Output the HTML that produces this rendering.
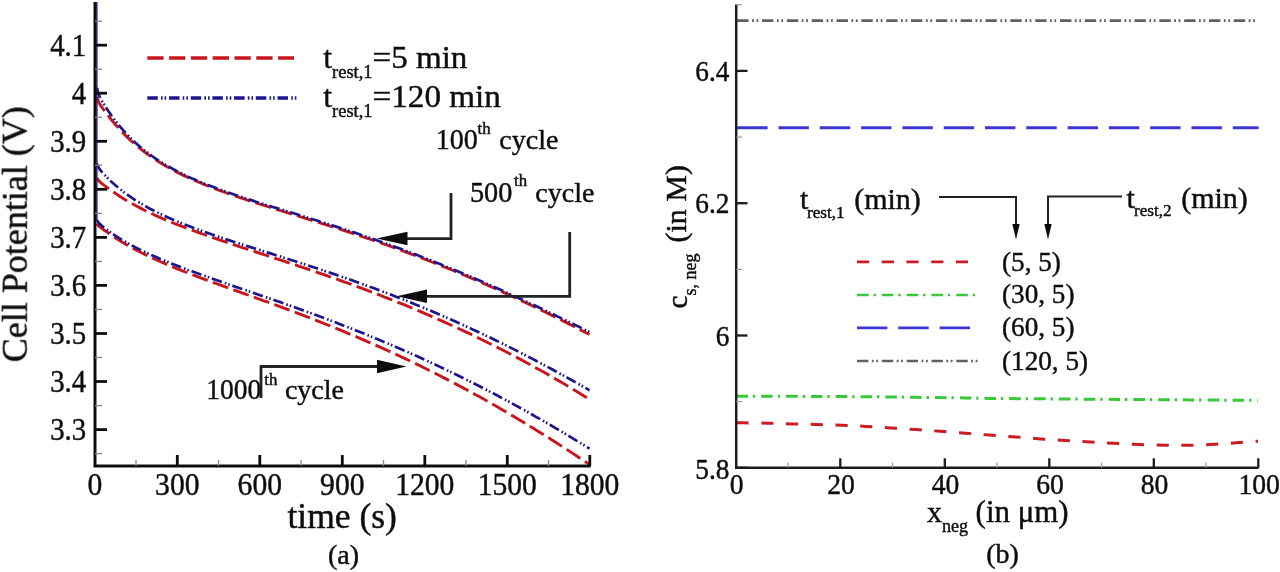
<!DOCTYPE html>
<html><head><meta charset="utf-8"><style>
html,body{margin:0;padding:0;background:#fff;overflow:hidden;width:1280px;height:572px;}
svg{display:block;}
text{font-family:"Liberation Serif",serif;fill:#111;stroke:#111;stroke-width:0.45px;}
</style></head><body>
<svg width="1280" height="572" viewBox="0 0 1280 572">
<defs><filter id="bl" x="0" y="0" width="1280" height="572" filterUnits="userSpaceOnUse"><feGaussianBlur stdDeviation="0.7"/></filter></defs>
<g filter="url(#bl)">
<rect x="0" y="0" width="1280" height="572" fill="#fff"/>
<path d="M97.0,96.8 L98.0,100.4 L99.0,102.6 L100.0,104.4 L101.0,105.9 L102.0,107.4 L103.0,108.8 L104.0,110.1 L105.0,111.5 L106.0,112.8 L107.0,114.1 L108.0,115.4 L109.0,116.7 L110.0,118.0 L112.0,120.5 L116.0,125.2 L120.0,129.7 L124.0,133.9 L128.0,137.9 L132.0,141.6 L136.0,145.1 L140.0,148.4 L144.0,151.6 L148.0,154.5 L152.0,157.3 L156.0,160.0 L160.0,162.5 L164.0,164.9 L168.0,167.2 L172.0,169.4 L176.0,171.6 L180.0,173.6 L184.0,175.6 L188.0,177.4 L192.0,179.3 L196.0,181.0 L200.0,182.7 L204.0,184.4 L208.0,186.0 L212.0,187.5 L216.0,189.1 L220.0,190.6 L224.0,192.0 L228.0,193.5 L232.0,194.9 L236.0,196.2 L240.0,197.6 L244.0,198.9 L248.0,200.3 L252.0,201.6 L256.0,202.8 L260.0,204.1 L264.0,205.4 L268.0,206.7 L272.0,207.9 L276.0,209.2 L280.0,210.4 L284.0,211.7 L288.0,212.9 L292.0,214.1 L296.0,215.4 L300.0,216.6 L304.0,217.8 L308.0,219.1 L312.0,220.3 L316.0,221.6 L320.0,222.8 L324.0,224.1 L328.0,225.4 L332.0,226.7 L336.0,227.9 L340.0,229.2 L344.0,230.5 L348.0,231.8 L352.0,233.2 L356.0,234.5 L360.0,235.8 L364.0,237.2 L368.0,238.5 L372.0,239.9 L376.0,241.3 L380.0,242.7 L384.0,244.1 L388.0,245.5 L392.0,246.9 L396.0,248.4 L400.0,249.8 L404.0,251.3 L408.0,252.8 L412.0,254.3 L416.0,255.8 L420.0,257.3 L424.0,258.9 L428.0,260.4 L432.0,262.0 L436.0,263.6 L440.0,265.1 L444.0,266.8 L448.0,268.4 L452.0,270.0 L456.0,271.7 L460.0,273.3 L464.0,275.0 L468.0,276.7 L472.0,278.4 L476.0,280.1 L480.0,281.9 L484.0,283.6 L488.0,285.4 L492.0,287.2 L496.0,288.9 L500.0,290.7 L504.0,292.6 L508.0,294.4 L512.0,296.2 L516.0,298.1 L520.0,300.0 L524.0,301.9 L528.0,303.8 L532.0,305.7 L536.0,307.6 L540.0,309.5 L544.0,311.5 L548.0,313.4 L552.0,315.4 L556.0,317.4 L560.0,319.4 L564.0,321.4 L568.0,323.4 L572.0,325.5 L576.0,327.5 L580.0,329.6 L584.0,331.6 L588.0,333.7 L589.5,334.5" fill="none" stroke="#c8161e" stroke-width="2.9" stroke-dasharray="16.3 5.5"/>
<path d="M97.0,178.0 L98.0,179.7 L99.0,180.9 L100.0,181.9 L101.0,182.8 L102.0,183.6 L103.0,184.4 L104.0,185.2 L105.0,185.9 L106.0,186.7 L107.0,187.5 L108.0,188.2 L109.0,188.9 L110.0,189.7 L112.0,191.1 L116.0,193.8 L120.0,196.5 L124.0,199.0 L128.0,201.4 L132.0,203.6 L136.0,205.8 L140.0,207.9 L144.0,210.0 L148.0,211.9 L152.0,213.8 L156.0,215.7 L160.0,217.4 L164.0,219.2 L168.0,220.8 L172.0,222.5 L176.0,224.1 L180.0,225.7 L184.0,227.2 L188.0,228.7 L192.0,230.2 L196.0,231.7 L200.0,233.1 L204.0,234.5 L208.0,235.9 L212.0,237.3 L216.0,238.7 L220.0,240.1 L224.0,241.4 L228.0,242.8 L232.0,244.1 L236.0,245.4 L240.0,246.8 L244.0,248.1 L248.0,249.4 L252.0,250.7 L256.0,252.0 L260.0,253.3 L264.0,254.6 L268.0,255.9 L272.0,257.3 L276.0,258.6 L280.0,259.9 L284.0,261.2 L288.0,262.5 L292.0,263.9 L296.0,265.2 L300.0,266.5 L304.0,267.9 L308.0,269.2 L312.0,270.6 L316.0,271.9 L320.0,273.3 L324.0,274.7 L328.0,276.1 L332.0,277.5 L336.0,278.9 L340.0,280.3 L344.0,281.8 L348.0,283.2 L352.0,284.7 L356.0,286.1 L360.0,287.6 L364.0,289.1 L368.0,290.6 L372.0,292.1 L376.0,293.7 L380.0,295.2 L384.0,296.8 L388.0,298.3 L392.0,299.9 L396.0,301.5 L400.0,303.1 L404.0,304.7 L408.0,306.4 L412.0,308.0 L416.0,309.7 L420.0,311.4 L424.0,313.1 L428.0,314.8 L432.0,316.6 L436.0,318.3 L440.0,320.1 L444.0,321.9 L448.0,323.7 L452.0,325.5 L456.0,327.3 L460.0,329.2 L464.0,331.1 L468.0,332.9 L472.0,334.8 L476.0,336.8 L480.0,338.7 L484.0,340.7 L488.0,342.7 L492.0,344.6 L496.0,346.7 L500.0,348.7 L504.0,350.7 L508.0,352.8 L512.0,354.9 L516.0,357.0 L520.0,359.1 L524.0,361.3 L528.0,363.5 L532.0,365.6 L536.0,367.9 L540.0,370.1 L544.0,372.3 L548.0,374.6 L552.0,376.9 L556.0,379.2 L560.0,381.5 L564.0,383.8 L568.0,386.2 L572.0,388.6 L576.0,391.0 L580.0,393.4 L584.0,395.9 L588.0,398.4 L589.5,399.3" fill="none" stroke="#c8161e" stroke-width="2.9" stroke-dasharray="16.3 5.5"/>
<path d="M97.0,223.6 L98.0,225.2 L99.0,226.3 L100.0,227.1 L101.0,227.9 L102.0,228.6 L103.0,229.3 L104.0,230.0 L105.0,230.7 L106.0,231.4 L107.0,232.1 L108.0,232.8 L109.0,233.5 L110.0,234.2 L112.0,235.6 L116.0,238.2 L120.0,240.7 L124.0,243.2 L128.0,245.5 L132.0,247.8 L136.0,249.9 L140.0,252.0 L144.0,254.0 L148.0,256.0 L152.0,257.9 L156.0,259.7 L160.0,261.5 L164.0,263.2 L168.0,265.0 L172.0,266.6 L176.0,268.3 L180.0,269.9 L184.0,271.5 L188.0,273.0 L192.0,274.6 L196.0,276.1 L200.0,277.6 L204.0,279.1 L208.0,280.5 L212.0,282.0 L216.0,283.5 L220.0,284.9 L224.0,286.4 L228.0,287.8 L232.0,289.3 L236.0,290.7 L240.0,292.1 L244.0,293.6 L248.0,295.0 L252.0,296.4 L256.0,297.9 L260.0,299.3 L264.0,300.8 L268.0,302.2 L272.0,303.7 L276.0,305.2 L280.0,306.6 L284.0,308.1 L288.0,309.6 L292.0,311.1 L296.0,312.6 L300.0,314.1 L304.0,315.7 L308.0,317.2 L312.0,318.7 L316.0,320.3 L320.0,321.9 L324.0,323.5 L328.0,325.1 L332.0,326.7 L336.0,328.3 L340.0,329.9 L344.0,331.6 L348.0,333.3 L352.0,334.9 L356.0,336.6 L360.0,338.3 L364.0,340.1 L368.0,341.8 L372.0,343.6 L376.0,345.3 L380.0,347.1 L384.0,348.9 L388.0,350.7 L392.0,352.6 L396.0,354.4 L400.0,356.3 L404.0,358.1 L408.0,360.0 L412.0,362.0 L416.0,363.9 L420.0,365.8 L424.0,367.8 L428.0,369.8 L432.0,371.8 L436.0,373.8 L440.0,375.8 L444.0,377.9 L448.0,379.9 L452.0,382.0 L456.0,384.1 L460.0,386.3 L464.0,388.4 L468.0,390.5 L472.0,392.7 L476.0,394.9 L480.0,397.1 L484.0,399.3 L488.0,401.6 L492.0,403.9 L496.0,406.1 L500.0,408.4 L504.0,410.7 L508.0,413.1 L512.0,415.4 L516.0,417.8 L520.0,420.2 L524.0,422.6 L528.0,425.0 L532.0,427.5 L536.0,429.9 L540.0,432.4 L544.0,434.9 L548.0,437.4 L552.0,439.9 L556.0,442.5 L560.0,445.1 L564.0,447.6 L568.0,450.2 L572.0,452.9 L576.0,455.5 L580.0,458.2 L584.0,460.8 L588.0,463.5 L589.5,464.5" fill="none" stroke="#c8161e" stroke-width="2.9" stroke-dasharray="16.3 5.5"/>
<path d="M97.0,87.9 L98.0,92.2 L99.0,95.0 L100.0,97.3 L101.0,99.2 L102.0,101.0 L103.0,102.7 L104.0,104.3 L105.0,105.9 L106.0,107.5 L107.0,109.0 L108.0,110.5 L109.0,112.0 L110.0,113.4 L112.0,116.3 L116.0,121.6 L120.0,126.6 L124.0,131.2 L128.0,135.5 L132.0,139.5 L136.0,143.2 L140.0,146.7 L144.0,150.0 L148.0,153.1 L152.0,156.0 L156.0,158.8 L160.0,161.4 L164.0,163.9 L168.0,166.2 L172.0,168.5 L176.0,170.6 L180.0,172.7 L184.0,174.7 L188.0,176.6 L192.0,178.4 L196.0,180.1 L200.0,181.8 L204.0,183.5 L208.0,185.1 L212.0,186.6 L216.0,188.1 L220.0,189.6 L224.0,191.0 L228.0,192.4 L232.0,193.8 L236.0,195.2 L240.0,196.5 L244.0,197.8 L248.0,199.1 L252.0,200.4 L256.0,201.7 L260.0,202.9 L264.0,204.2 L268.0,205.4 L272.0,206.7 L276.0,207.9 L280.0,209.1 L284.0,210.4 L288.0,211.6 L292.0,212.8 L296.0,214.0 L300.0,215.3 L304.0,216.5 L308.0,217.7 L312.0,219.0 L316.0,220.2 L320.0,221.5 L324.0,222.7 L328.0,224.0 L332.0,225.3 L336.0,226.6 L340.0,227.9 L344.0,229.2 L348.0,230.5 L352.0,231.8 L356.0,233.1 L360.0,234.5 L364.0,235.9 L368.0,237.2 L372.0,238.6 L376.0,240.0 L380.0,241.4 L384.0,242.8 L388.0,244.3 L392.0,245.7 L396.0,247.2 L400.0,248.6 L404.0,250.1 L408.0,251.6 L412.0,253.1 L416.0,254.6 L420.0,256.2 L424.0,257.7 L428.0,259.3 L432.0,260.9 L436.0,262.4 L440.0,264.0 L444.0,265.7 L448.0,267.3 L452.0,268.9 L456.0,270.6 L460.0,272.3 L464.0,273.9 L468.0,275.6 L472.0,277.3 L476.0,279.0 L480.0,280.8 L484.0,282.5 L488.0,284.3 L492.0,286.0 L496.0,287.8 L500.0,289.6 L504.0,291.4 L508.0,293.2 L512.0,295.0 L516.0,296.9 L520.0,298.7 L524.0,300.5 L528.0,302.4 L532.0,304.3 L536.0,306.1 L540.0,308.0 L544.0,309.9 L548.0,311.8 L552.0,313.7 L556.0,315.7 L560.0,317.6 L564.0,319.5 L568.0,321.5 L572.0,323.4 L576.0,325.4 L580.0,327.3 L584.0,329.3 L588.0,331.3 L589.5,332.0" fill="none" stroke="#1c168e" stroke-width="2.7" stroke-dasharray="10.5 3.2 1.6 2 1.6 2.8"/>
<path d="M97.0,163.7 L98.0,166.4 L99.0,168.2 L100.0,169.6 L101.0,170.9 L102.0,172.1 L103.0,173.3 L104.0,174.4 L105.0,175.4 L106.0,176.5 L107.0,177.5 L108.0,178.5 L109.0,179.5 L110.0,180.4 L112.0,182.3 L116.0,185.8 L120.0,189.1 L124.0,192.2 L128.0,195.2 L132.0,197.9 L136.0,200.5 L140.0,203.0 L144.0,205.3 L148.0,207.6 L152.0,209.7 L156.0,211.7 L160.0,213.7 L164.0,215.6 L168.0,217.4 L172.0,219.2 L176.0,220.9 L180.0,222.6 L184.0,224.2 L188.0,225.7 L192.0,227.3 L196.0,228.8 L200.0,230.2 L204.0,231.7 L208.0,233.1 L212.0,234.5 L216.0,235.8 L220.0,237.2 L224.0,238.5 L228.0,239.9 L232.0,241.2 L236.0,242.5 L240.0,243.8 L244.0,245.0 L248.0,246.3 L252.0,247.6 L256.0,248.8 L260.0,250.1 L264.0,251.4 L268.0,252.6 L272.0,253.9 L276.0,255.2 L280.0,256.4 L284.0,257.7 L288.0,259.0 L292.0,260.3 L296.0,261.5 L300.0,262.8 L304.0,264.1 L308.0,265.4 L312.0,266.7 L316.0,268.0 L320.0,269.4 L324.0,270.7 L328.0,272.1 L332.0,273.4 L336.0,274.8 L340.0,276.2 L344.0,277.5 L348.0,278.9 L352.0,280.3 L356.0,281.8 L360.0,283.2 L364.0,284.6 L368.0,286.1 L372.0,287.6 L376.0,289.1 L380.0,290.6 L384.0,292.1 L388.0,293.6 L392.0,295.1 L396.0,296.7 L400.0,298.3 L404.0,299.8 L408.0,301.4 L412.0,303.1 L416.0,304.7 L420.0,306.3 L424.0,308.0 L428.0,309.7 L432.0,311.3 L436.0,313.0 L440.0,314.8 L444.0,316.5 L448.0,318.2 L452.0,320.0 L456.0,321.8 L460.0,323.6 L464.0,325.4 L468.0,327.2 L472.0,329.1 L476.0,330.9 L480.0,332.8 L484.0,334.7 L488.0,336.6 L492.0,338.5 L496.0,340.5 L500.0,342.4 L504.0,344.4 L508.0,346.4 L512.0,348.4 L516.0,350.4 L520.0,352.4 L524.0,354.5 L528.0,356.6 L532.0,358.6 L536.0,360.7 L540.0,362.9 L544.0,365.0 L548.0,367.1 L552.0,369.3 L556.0,371.5 L560.0,373.7 L564.0,375.9 L568.0,378.1 L572.0,380.3 L576.0,382.6 L580.0,384.8 L584.0,387.1 L588.0,389.4 L589.5,390.3" fill="none" stroke="#1c168e" stroke-width="2.7" stroke-dasharray="10.5 3.2 1.6 2 1.6 2.8"/>
<path d="M97.0,220.0 L98.0,221.8 L99.0,223.0 L100.0,224.1 L101.0,225.0 L102.0,225.9 L103.0,226.7 L104.0,227.5 L105.0,228.3 L106.0,229.1 L107.0,229.8 L108.0,230.6 L109.0,231.3 L110.0,232.0 L112.0,233.4 L116.0,236.1 L120.0,238.6 L124.0,241.0 L128.0,243.3 L132.0,245.5 L136.0,247.6 L140.0,249.6 L144.0,251.6 L148.0,253.4 L152.0,255.3 L156.0,257.0 L160.0,258.8 L164.0,260.4 L168.0,262.1 L172.0,263.7 L176.0,265.3 L180.0,266.8 L184.0,268.3 L188.0,269.9 L192.0,271.3 L196.0,272.8 L200.0,274.3 L204.0,275.7 L208.0,277.1 L212.0,278.5 L216.0,279.9 L220.0,281.3 L224.0,282.7 L228.0,284.1 L232.0,285.5 L236.0,286.9 L240.0,288.3 L244.0,289.6 L248.0,291.0 L252.0,292.4 L256.0,293.8 L260.0,295.2 L264.0,296.5 L268.0,297.9 L272.0,299.3 L276.0,300.7 L280.0,302.1 L284.0,303.5 L288.0,305.0 L292.0,306.4 L296.0,307.8 L300.0,309.3 L304.0,310.7 L308.0,312.2 L312.0,313.6 L316.0,315.1 L320.0,316.6 L324.0,318.1 L328.0,319.6 L332.0,321.1 L336.0,322.6 L340.0,324.2 L344.0,325.7 L348.0,327.3 L352.0,328.8 L356.0,330.4 L360.0,332.0 L364.0,333.6 L368.0,335.3 L372.0,336.9 L376.0,338.6 L380.0,340.2 L384.0,341.9 L388.0,343.6 L392.0,345.3 L396.0,347.0 L400.0,348.7 L404.0,350.5 L408.0,352.2 L412.0,354.0 L416.0,355.8 L420.0,357.6 L424.0,359.4 L428.0,361.3 L432.0,363.1 L436.0,365.0 L440.0,366.9 L444.0,368.8 L448.0,370.7 L452.0,372.6 L456.0,374.5 L460.0,376.5 L464.0,378.5 L468.0,380.5 L472.0,382.5 L476.0,384.5 L480.0,386.5 L484.0,388.6 L488.0,390.7 L492.0,392.7 L496.0,394.8 L500.0,397.0 L504.0,399.1 L508.0,401.2 L512.0,403.4 L516.0,405.6 L520.0,407.8 L524.0,410.0 L528.0,412.2 L532.0,414.5 L536.0,416.8 L540.0,419.0 L544.0,421.3 L548.0,423.6 L552.0,426.0 L556.0,428.3 L560.0,430.7 L564.0,433.1 L568.0,435.5 L572.0,437.9 L576.0,440.3 L580.0,442.8 L584.0,445.2 L588.0,447.7 L589.5,448.6" fill="none" stroke="#1c168e" stroke-width="2.7" stroke-dasharray="10.5 3.2 1.6 2 1.6 2.8"/>
<line x1="96.9" y1="2" x2="96.9" y2="221" stroke="#2a2090" stroke-width="1.4"/>
<path d="M95.0,2.0 V466.0 H590.7" fill="none" stroke="#111" stroke-width="3.0"/>
<line x1="95.0" y1="45.2" x2="107" y2="45.2" stroke="#111" stroke-width="2.8"/>
<text transform="translate(86.2,55.8) scale(0.930,1)" font-size="31.0" text-anchor="end">4.1</text>
<line x1="95.0" y1="93.2" x2="107" y2="93.2" stroke="#111" stroke-width="2.8"/>
<text transform="translate(86.2,103.8) scale(0.930,1)" font-size="31.0" text-anchor="end">4</text>
<line x1="95.0" y1="141.3" x2="107" y2="141.3" stroke="#111" stroke-width="2.8"/>
<text transform="translate(86.2,151.9) scale(0.930,1)" font-size="31.0" text-anchor="end">3.9</text>
<line x1="95.0" y1="189.3" x2="107" y2="189.3" stroke="#111" stroke-width="2.8"/>
<text transform="translate(86.2,199.9) scale(0.930,1)" font-size="31.0" text-anchor="end">3.8</text>
<line x1="95.0" y1="237.4" x2="107" y2="237.4" stroke="#111" stroke-width="2.8"/>
<text transform="translate(86.2,248.0) scale(0.930,1)" font-size="31.0" text-anchor="end">3.7</text>
<line x1="95.0" y1="285.4" x2="107" y2="285.4" stroke="#111" stroke-width="2.8"/>
<text transform="translate(86.2,296.0) scale(0.930,1)" font-size="31.0" text-anchor="end">3.6</text>
<line x1="95.0" y1="333.5" x2="107" y2="333.5" stroke="#111" stroke-width="2.8"/>
<text transform="translate(86.2,344.1) scale(0.930,1)" font-size="31.0" text-anchor="end">3.5</text>
<line x1="95.0" y1="381.5" x2="107" y2="381.5" stroke="#111" stroke-width="2.8"/>
<text transform="translate(86.2,392.1) scale(0.930,1)" font-size="31.0" text-anchor="end">3.4</text>
<line x1="95.0" y1="429.6" x2="107" y2="429.6" stroke="#111" stroke-width="2.8"/>
<text transform="translate(86.2,440.2) scale(0.930,1)" font-size="31.0" text-anchor="end">3.3</text>
<line x1="95.0" y1="21.2" x2="102" y2="21.2" stroke="#888" stroke-width="1.3"/>
<line x1="95.0" y1="69.2" x2="102" y2="69.2" stroke="#888" stroke-width="1.3"/>
<line x1="95.0" y1="117.3" x2="102" y2="117.3" stroke="#888" stroke-width="1.3"/>
<line x1="95.0" y1="165.3" x2="102" y2="165.3" stroke="#888" stroke-width="1.3"/>
<line x1="95.0" y1="213.4" x2="102" y2="213.4" stroke="#888" stroke-width="1.3"/>
<line x1="95.0" y1="261.4" x2="102" y2="261.4" stroke="#888" stroke-width="1.3"/>
<line x1="95.0" y1="309.5" x2="102" y2="309.5" stroke="#888" stroke-width="1.3"/>
<line x1="95.0" y1="357.5" x2="102" y2="357.5" stroke="#888" stroke-width="1.3"/>
<line x1="95.0" y1="405.6" x2="102" y2="405.6" stroke="#888" stroke-width="1.3"/>
<line x1="95.0" y1="453.6" x2="102" y2="453.6" stroke="#888" stroke-width="1.3"/>
<text transform="translate(94.8,494.6) scale(0.940,1)" font-size="31.5" text-anchor="middle">0</text>
<line x1="177.3" y1="466.0" x2="177.3" y2="455" stroke="#111" stroke-width="2.8"/>
<text transform="translate(177.3,494.6) scale(0.940,1)" font-size="31.5" text-anchor="middle">300</text>
<line x1="259.8" y1="466.0" x2="259.8" y2="455" stroke="#111" stroke-width="2.8"/>
<text transform="translate(259.8,494.6) scale(0.940,1)" font-size="31.5" text-anchor="middle">600</text>
<line x1="342.3" y1="466.0" x2="342.3" y2="455" stroke="#111" stroke-width="2.8"/>
<text transform="translate(342.3,494.6) scale(0.940,1)" font-size="31.5" text-anchor="middle">900</text>
<line x1="424.8" y1="466.0" x2="424.8" y2="455" stroke="#111" stroke-width="2.8"/>
<text transform="translate(424.8,494.6) scale(0.940,1)" font-size="31.5" text-anchor="middle">1200</text>
<line x1="507.3" y1="466.0" x2="507.3" y2="455" stroke="#111" stroke-width="2.8"/>
<text transform="translate(507.3,494.6) scale(0.940,1)" font-size="31.5" text-anchor="middle">1500</text>
<line x1="589.8" y1="466.0" x2="589.8" y2="455" stroke="#111" stroke-width="2.8"/>
<text transform="translate(589.8,494.6) scale(0.940,1)" font-size="31.5" text-anchor="middle">1800</text>
<line x1="136.0" y1="466.0" x2="136.0" y2="460" stroke="#888" stroke-width="1.3"/>
<line x1="218.5" y1="466.0" x2="218.5" y2="460" stroke="#888" stroke-width="1.3"/>
<line x1="301.0" y1="466.0" x2="301.0" y2="460" stroke="#888" stroke-width="1.3"/>
<line x1="383.5" y1="466.0" x2="383.5" y2="460" stroke="#888" stroke-width="1.3"/>
<line x1="466.0" y1="466.0" x2="466.0" y2="460" stroke="#888" stroke-width="1.3"/>
<line x1="548.5" y1="466.0" x2="548.5" y2="460" stroke="#888" stroke-width="1.3"/>
<text x="342.2" y="527.5" font-size="35.5" text-anchor="middle">time (s)</text>
<text x="343.6" y="564.0" font-size="28.0" text-anchor="middle">(a)</text>
<text transform="translate(26.8,234.2) rotate(-90)" font-size="36" text-anchor="middle">Cell Potential (V)</text>
<line x1="147.3" y1="58" x2="294" y2="58" stroke="#c8161e" stroke-width="3.6" stroke-dasharray="16.3 5.5"/>
<line x1="147.3" y1="98" x2="298" y2="98" stroke="#1c168e" stroke-width="3.3" stroke-dasharray="10.5 3.2 1.6 2 1.6 2.8"/>
<text x="323.2" y="68.0" font-size="32.0">t</text>
<text x="332.1" y="77.5" font-size="18.4">rest,1</text>
<text x="372.5" y="68.0" font-size="32" textLength="94.9" lengthAdjust="spacingAndGlyphs">=5 min</text>
<text x="323.2" y="107.4" font-size="32.0">t</text>
<text x="332.1" y="116.9" font-size="18.4">rest,1</text>
<text x="372.5" y="107.4" font-size="32" textLength="128.4" lengthAdjust="spacingAndGlyphs">=120 min</text>
<text transform="translate(435.8,149.2) scale(0.950,1)" font-size="29.5">100</text>
<text x="477.5" y="134.3" font-size="16.8">th</text>
<text x="499.3" y="149.0" font-size="28.0">cycle</text>
<path d="M451,193 V238.6 H405" fill="none" stroke="#222" stroke-width="2.8"/>
<path d="M376.5,238.6 L407.5,231.8 L407.5,245.3 Z" fill="#111"/>
<text transform="translate(469.9,201.6) scale(0.960,1)" font-size="29.5">500</text>
<text x="514.0" y="186.3" font-size="16.8">th</text>
<text x="535.3" y="201.5" font-size="28.0">cycle</text>
<path d="M569.7,232 V296.3 H425" fill="none" stroke="#222" stroke-width="2.8"/>
<path d="M396.5,296.3 L427.0,289.6 L427.0,303.1 Z" fill="#111"/>
<text transform="translate(206.3,399.2) scale(0.950,1)" font-size="29.0">1000</text>
<text x="264.3" y="385.0" font-size="16.8">th</text>
<text x="284.9" y="399.0" font-size="28.0">cycle</text>
<path d="M261,398 V366.5 H379" fill="none" stroke="#222" stroke-width="2.8"/>
<path d="M406.5,366.5 L377,359.8 L377,373.2 Z" fill="#111"/>
<line x1="737.2" y1="20.6" x2="1258.5" y2="20.6" stroke="#616161" stroke-width="2.8" stroke-dasharray="11.4 3.45 1.8 2.65 1.8 3.73"/>
<line x1="737.2" y1="127.7" x2="1258.5" y2="127.7" stroke="#3c34d4" stroke-width="3" stroke-dasharray="30.4 10.9"/>
<path d="M736.5,396.2 C741.6,396.2 753.8,396.1 767.0,396.2 C780.2,396.2 799.5,396.4 816.0,396.5 C832.5,396.6 849.5,396.6 866.0,396.7 C882.5,396.8 898.5,397.1 915.0,397.3 C931.5,397.5 952.5,397.7 965.0,397.9 C977.5,398.1 975.8,398.2 990.0,398.4 C1004.2,398.6 1028.3,398.7 1050.0,398.9 C1071.7,399.1 1096.7,399.2 1120.0,399.4 C1143.3,399.6 1167.0,399.7 1190.0,399.9 C1213.0,400.1 1246.7,400.3 1258.0,400.4" fill="none" stroke="#38c838" stroke-width="3" stroke-dasharray="11.6 4.9 2.4 5.9"/>
<path d="M736.5,422.8 C737.5,422.8 737.6,422.7 742.7,422.8 C747.8,422.9 759.1,423.0 767.3,423.2 C775.4,423.4 783.4,423.7 791.6,423.9 C799.8,424.1 808.2,424.3 816.5,424.5 C824.8,424.7 833.1,425.0 841.4,425.3 C849.6,425.6 857.8,426.0 866.0,426.4 C874.2,426.8 882.4,427.4 890.7,427.9 C899.0,428.4 907.5,429.0 915.8,429.6 C924.1,430.2 932.0,430.7 940.3,431.3 C948.6,431.9 957.3,432.6 965.6,433.2 C973.9,433.8 981.6,434.5 989.9,435.1 C998.2,435.7 1007.0,436.3 1015.4,436.9 C1023.8,437.5 1032.0,438.3 1040.3,438.9 C1048.6,439.5 1056.9,440.0 1065.2,440.5 C1073.5,441.0 1081.9,441.4 1090.1,441.9 C1098.3,442.4 1106.3,442.9 1114.6,443.3 C1122.9,443.7 1131.6,444.2 1140.0,444.5 C1148.4,444.8 1156.7,445.1 1164.9,445.2 C1173.1,445.3 1181.1,445.3 1189.4,445.2 C1197.7,445.1 1206.5,444.7 1214.7,444.3 C1222.9,443.9 1231.6,443.1 1238.8,442.6 C1246.0,442.1 1254.8,441.4 1258.0,441.2" fill="none" stroke="#cc1a24" stroke-width="3" stroke-dasharray="12.2 12.55"/>
<path d="M736.2,4.4 V467.8 H1258.5" fill="none" stroke="#1a1a1a" stroke-width="2.5"/>
<line x1="736.2" y1="70.9" x2="747.5" y2="70.9" stroke="#1a1a1a" stroke-width="2.3"/>
<text transform="translate(729.5,80.9) scale(0.950,1)" font-size="28.8" text-anchor="end">6.4</text>
<line x1="736.2" y1="203.2" x2="747.5" y2="203.2" stroke="#1a1a1a" stroke-width="2.3"/>
<text transform="translate(729.5,213.2) scale(0.950,1)" font-size="28.8" text-anchor="end">6.2</text>
<line x1="736.2" y1="335.5" x2="747.5" y2="335.5" stroke="#1a1a1a" stroke-width="2.3"/>
<text transform="translate(729.5,345.5) scale(0.950,1)" font-size="28.8" text-anchor="end">6</text>
<line x1="736.2" y1="467.8" x2="747.5" y2="467.8" stroke="#1a1a1a" stroke-width="2.3"/>
<text transform="translate(729.5,479.4) scale(0.950,1)" font-size="28.8" text-anchor="end">5.8</text>
<line x1="736.2" y1="4.7" x2="742" y2="4.7" stroke="#999" stroke-width="1.2"/>
<line x1="736.2" y1="137.1" x2="742" y2="137.1" stroke="#999" stroke-width="1.2"/>
<line x1="736.2" y1="269.4" x2="742" y2="269.4" stroke="#999" stroke-width="1.2"/>
<line x1="736.2" y1="401.6" x2="742" y2="401.6" stroke="#999" stroke-width="1.2"/>
<text transform="translate(736.6,494.0) scale(0.960,1)" font-size="28.8" text-anchor="middle">0</text>
<line x1="840.3" y1="467.8" x2="840.3" y2="458.3" stroke="#1a1a1a" stroke-width="2.3"/>
<text transform="translate(841.1,494.0) scale(0.960,1)" font-size="28.8" text-anchor="middle">20</text>
<line x1="944.8" y1="467.8" x2="944.8" y2="458.3" stroke="#1a1a1a" stroke-width="2.3"/>
<text transform="translate(945.6,494.0) scale(0.960,1)" font-size="28.8" text-anchor="middle">40</text>
<line x1="1049.3" y1="467.8" x2="1049.3" y2="458.3" stroke="#1a1a1a" stroke-width="2.3"/>
<text transform="translate(1050.1,494.0) scale(0.960,1)" font-size="28.8" text-anchor="middle">60</text>
<line x1="1153.8" y1="467.8" x2="1153.8" y2="458.3" stroke="#1a1a1a" stroke-width="2.3"/>
<text transform="translate(1154.6,494.0) scale(0.960,1)" font-size="28.8" text-anchor="middle">80</text>
<line x1="1258.3" y1="467.8" x2="1258.3" y2="458.3" stroke="#1a1a1a" stroke-width="2.3"/>
<text transform="translate(1259.1,494.0) scale(0.960,1)" font-size="28.8" text-anchor="middle">100</text>
<line x1="788.0" y1="467.8" x2="788.0" y2="462.5" stroke="#999" stroke-width="1.2"/>
<line x1="892.5" y1="467.8" x2="892.5" y2="462.5" stroke="#999" stroke-width="1.2"/>
<line x1="997.0" y1="467.8" x2="997.0" y2="462.5" stroke="#999" stroke-width="1.2"/>
<line x1="1101.5" y1="467.8" x2="1101.5" y2="462.5" stroke="#999" stroke-width="1.2"/>
<line x1="1206.0" y1="467.8" x2="1206.0" y2="462.5" stroke="#999" stroke-width="1.2"/>
<text x="927.0" y="522.3" font-size="30.0">x</text>
<text x="941.9" y="532.0" font-size="18.0">neg</text>
<text x="975.6" y="522.3" font-size="30.9">(in &#956;m)</text>
<text x="1002.5" y="563.0" font-size="28.0" text-anchor="middle">(b)</text>
<g transform="translate(686.5,0) rotate(-90)">
<text x="-308.4" y="0" font-size="29">c</text>
<text x="-295.5" y="9.5" font-size="18">s, neg</text>
<text x="-242.6" y="-0.5" font-size="30">(in M)</text>
</g>
<text x="800.1" y="208.5" font-size="30.0">t</text>
<text x="807.0" y="218.0" font-size="17.2">rest,1</text>
<text x="854.2" y="208.5" font-size="30.0">(min)</text>
<text x="1126.5" y="208.0" font-size="30.0">t</text>
<text x="1134.0" y="216.0" font-size="17.2">rest,2</text>
<text x="1181.2" y="208.0" font-size="30.0">(min)</text>
<path d="M939,197 H1016 V232" fill="none" stroke="#222" stroke-width="2"/>
<path d="M1016,239.5 L1012.3,224 L1019.7,224 Z" fill="#111"/>
<path d="M1122,196.5 H1048 V232" fill="none" stroke="#222" stroke-width="2"/>
<path d="M1048,239.5 L1044.3,224 L1051.7,224 Z" fill="#111"/>
<line x1="857" y1="261.8" x2="968" y2="261.8" stroke="#cc1a24" stroke-width="2.8" stroke-dasharray="12.2 12.55"/>
<line x1="857" y1="295" x2="976" y2="295" stroke="#38c838" stroke-width="2.6" stroke-dasharray="11.6 4.9 2.4 5.9"/>
<line x1="857" y1="327.8" x2="970" y2="327.8" stroke="#3c34d4" stroke-width="2.8" stroke-dasharray="30.4 10.9"/>
<line x1="857" y1="361" x2="978" y2="361" stroke="#616161" stroke-width="2.4" stroke-dasharray="11.4 3.45 1.8 2.65 1.8 3.73"/>
<text x="1002.0" y="270.5" font-size="27.2">(5, 5)</text>
<text x="1002.0" y="303.0" font-size="27.2">(30, 5)</text>
<text x="1002.0" y="336.0" font-size="27.2">(60, 5)</text>
<text x="1002.0" y="369.5" font-size="27.2">(120, 5)</text>
</g>
</svg>
</body></html>
